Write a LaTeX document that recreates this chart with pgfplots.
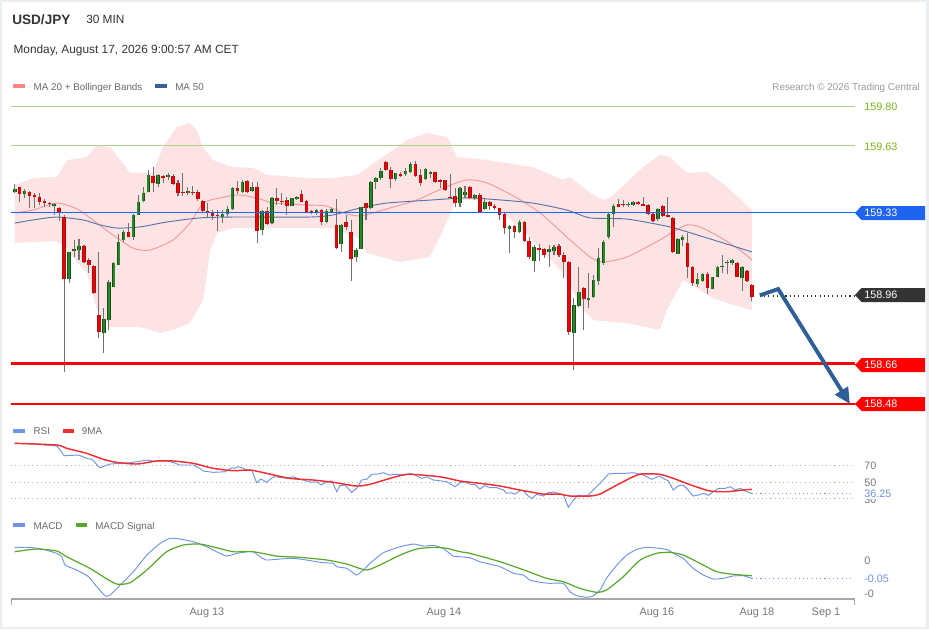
\documentclass[border=0pt]{standalone}
\usepackage{fontspec}
\setmainfont{Liberation Sans}
\usepackage{pgfplots}
\pgfplotsset{compat=1.18}
\usepackage{pgfplotstable}
\usetikzlibrary{arrows.meta}
\newcommand\fs[1]{\fontsize{#1}{#1}\selectfont}
\definecolor{bandpink}{HTML}{FDE3E3}
\definecolor{ma20}{HTML}{F49A9A}
\definecolor{ma50}{HTML}{5573AC}
\definecolor{cgreen}{HTML}{258A25}
\definecolor{cgreenD}{HTML}{174D17}
\definecolor{cred}{HTML}{F00000}
\definecolor{credD}{HTML}{A51010}
\definecolor{wick}{HTML}{707070}
\definecolor{resblue}{HTML}{1F63F0}
\definecolor{resgreen}{HTML}{A9D68C}
\definecolor{lbgreen}{HTML}{78B41C}
\definecolor{supred}{HTML}{FF0000}
\definecolor{arrowblue}{HTML}{2F5F98}
\definecolor{rsiblue}{HTML}{6F93E6}
\definecolor{rsired}{HTML}{F03030}
\definecolor{macdgreen}{HTML}{55A828}
\definecolor{titlec}{HTML}{333333}
\definecolor{leggray}{HTML}{6A6A6A}
\definecolor{resgray}{HTML}{9A9A9A}
\definecolor{txtgray}{HTML}{777777}
\definecolor{dotgray}{HTML}{B5B5B5}
\definecolor{axisgray}{HTML}{A8A8A8}
\definecolor{framec}{HTML}{E8EEF1}
\definecolor{darkbox}{HTML}{333333}
\definecolor{legpink}{HTML}{FF8585}
\definecolor{legblue}{HTML}{3A5F9A}

\pgfplotsset{candle/.style={only marks, mark=*, mark size=0pt,
  mark options={draw=none, fill=none},
  error bars/.cd, y dir=plus, y explicit, error mark=none}}

\pgfplotstableread{
i o h l c
0 159.421 159.457 159.417 159.434
1 159.443 159.446 159.376 159.412
2 159.412 159.434 159.397 159.428
3 159.424 159.427 159.350 159.406
4 159.410 159.417 159.353 159.399
5 159.401 159.417 159.364 159.379
6 159.384 159.392 159.357 159.372
7 159.375 159.379 159.357 159.369
8 159.361 159.375 159.320 159.369
9 159.350 159.357 159.293 159.330
10 159.312 159.320 158.622 159.034
11 159.034 159.157 159.016 159.154
12 159.160 159.209 159.135 159.168
13 159.164 159.212 159.120 159.182
14 159.182 159.187 159.105 159.112
15 159.120 159.128 159.064 159.098
16 159.095 159.098 158.969 158.972
17 158.876 159.157 158.772 158.801
18 158.794 158.905 158.708 158.857
19 158.853 159.031 158.809 159.024
20 159.001 159.112 159.000 159.105
21 159.098 159.236 159.098 159.201
22 159.209 159.253 159.201 159.246
23 159.243 159.283 159.221 159.221
24 159.224 159.323 159.209 159.320
25 159.320 159.409 159.320 159.379
26 159.382 159.446 159.379 159.419
27 159.421 159.520 159.421 159.498
28 159.493 159.535 159.424 159.461
29 159.458 159.501 159.446 159.498
30 159.493 159.498 159.461 159.483
31 159.488 159.508 159.476 159.496
32 159.495 159.502 159.453 159.458
33 159.464 159.476 159.404 159.417
34 159.422 159.508 159.404 159.417
35 159.419 159.446 159.409 159.427
36 159.422 159.449 159.409 159.417
37 159.424 159.431 159.384 159.390
38 159.382 159.387 159.328 159.338
39 159.338 159.372 159.312 159.328
40 159.332 159.342 159.298 159.317
41 159.320 159.342 159.249 159.316
42 159.310 159.342 159.283 159.324
43 159.324 159.360 159.312 159.345
44 159.345 159.443 159.342 159.439
45 159.441 159.472 159.413 159.428
46 159.424 159.476 159.417 159.467
47 159.472 159.476 159.417 159.421
48 159.427 159.468 159.424 159.446
49 159.446 159.468 159.194 159.250
50 159.253 159.342 159.231 159.338
51 159.338 159.357 159.276 159.280
52 159.283 159.399 159.280 159.394
53 159.394 159.439 159.364 159.382
54 159.384 159.417 159.364 159.379
55 159.387 159.401 159.320 159.361
56 159.361 159.397 159.360 159.394
57 159.391 159.404 159.387 159.399
58 159.412 159.431 159.376 159.379
59 159.382 159.387 159.328 159.330
60 159.338 159.342 159.324 159.328
61 159.328 159.345 159.320 159.342
62 159.342 159.345 159.276 159.290
63 159.290 159.345 159.286 159.339
64 159.335 159.350 159.328 159.345
65 159.276 159.390 159.169 159.172
66 159.191 159.280 159.157 159.276
67 159.290 159.320 159.253 159.265
68 159.246 159.298 159.027 159.123
69 159.132 159.172 159.112 159.164
70 159.170 159.357 159.170 159.354
71 159.372 159.375 159.298 159.350
72 159.350 159.472 159.345 159.468
73 159.468 159.488 159.434 159.483
74 159.483 159.528 159.476 159.517
75 159.557 159.560 159.516 159.520
76 159.520 159.535 159.439 159.480
77 159.480 159.508 159.471 159.505
78 159.501 159.512 159.490 159.495
79 159.502 159.530 159.495 159.517
80 159.510 159.557 159.505 159.545
81 159.545 159.560 159.490 159.495
82 159.498 159.524 159.450 159.464
83 159.479 159.528 159.476 159.523
84 159.502 159.516 159.483 159.510
85 159.510 159.512 159.464 159.465
86 159.476 159.480 159.441 159.468
87 159.474 159.476 159.427 159.430
88 159.401 159.501 159.397 159.397
89 159.406 159.441 159.357 159.372
90 159.372 159.446 159.357 159.439
91 159.409 159.449 159.394 159.424
92 159.446 159.449 159.391 159.397
93 159.394 159.412 159.387 159.409
94 159.409 159.417 159.332 159.335
95 159.347 159.397 159.342 159.379
96 159.379 159.382 159.342 159.361
97 159.361 159.368 159.342 159.350
98 159.350 159.353 159.298 159.320
99 159.323 159.328 159.234 159.261
100 159.258 159.276 159.150 159.272
101 159.272 159.276 159.216 159.246
102 159.243 159.298 159.239 159.290
103 159.290 159.293 159.201 159.204
104 159.204 159.224 159.124 159.132
105 159.116 159.187 159.068 159.179
106 159.175 159.190 159.116 159.164
107 159.168 159.172 159.128 159.142
108 159.154 159.187 159.090 159.168
109 159.160 159.187 159.142 159.179
110 159.184 159.190 159.135 159.142
111 159.142 159.157 159.041 159.110
112 159.110 159.116 158.787 158.801
113 158.797 158.951 158.631 158.920
114 158.916 159.090 158.912 158.979
115 158.994 159.001 158.809 158.945
116 158.942 159.061 158.905 158.952
117 158.954 159.053 158.950 159.031
118 159.028 159.172 159.009 159.128
119 159.108 159.209 159.098 159.201
120 159.224 159.328 159.212 159.324
121 159.324 159.369 159.265 159.360
122 159.368 159.390 159.354 159.357
123 159.368 159.387 159.354 159.363
124 159.363 159.379 159.357 159.369
125 159.363 159.384 159.360 159.378
126 159.378 159.384 159.363 159.368
127 159.368 159.401 159.360 159.361
128 159.364 159.368 159.320 159.324
129 159.324 159.328 159.290 159.295
130 159.301 159.350 159.295 159.345
131 159.361 159.366 159.312 159.316
132 159.320 159.399 159.310 159.312
133 159.305 159.310 159.153 159.154
134 159.147 159.217 159.146 159.212
135 159.209 159.231 159.182 159.224
136 159.194 159.239 159.039 159.090
137 159.090 159.093 159.005 159.019
138 159.012 159.064 158.999 159.034
139 159.028 159.061 159.024 159.058
140 159.058 159.068 158.969 158.994
141 158.992 159.046 158.990 159.043
142 159.046 159.093 159.043 159.090
143 159.089 159.142 159.061 159.093
144 159.105 159.120 159.058 159.112
145 159.105 159.123 159.098 159.120
146 159.108 159.112 159.043 159.046
147 159.039 159.093 158.984 159.090
148 159.071 159.076 159.024 159.028
149 159.009 159.012 158.939 158.954
}\candles

\begin{document}
\begin{tikzpicture}[x=0.75pt,y=-0.75pt]
\path[use as bounding box] (0,0) rectangle (929,629);
\fill[white] (0,0) rectangle (929,629);
\draw[framec, line width=1.5pt] (1,1) rectangle (928,628);
\fill[framec] (926,0) rectangle (929,629);

% ---------- main price panel ----------
\begin{axis}[at={(8.25pt,-311.25pt)}, anchor=south west, scale only axis,
  width=633pt, height=240pt,
  xmin=-0.75, xmax=169.83, ymin=158.4311, ymax=159.8533,
  axis line style={draw=none}, ticks=none, clip=false]
% Bollinger band
\addplot[fill=bandpink, draw=none] coordinates {
(0,159.453)(3.7,159.484)(8.5,159.489)(9.6,159.529)(10.6,159.564)(14.6,159.578)(16.6,159.631)(19.3,159.622)(23.3,159.507)(27.9,159.507)(30.0,159.622)(32.8,159.711)(35.4,159.729)(36.8,159.698)(38.0,159.622)(40.1,159.564)(44.1,159.533)(48.2,159.529)(51.0,159.498)(59.7,159.484)(64.3,159.484)(69.2,159.498)(79.3,159.653)(83.3,159.684)(87.4,159.667)(89.4,159.578)(95.5,159.564)(104.7,159.533)(110.8,159.476)(112.2,159.489)(116.9,159.409)(118.9,159.387)(120.3,159.396)(127.0,159.533)(130.4,159.587)(132.4,159.578)(135.9,159.507)(139.9,159.511)(144.0,159.445)(149,159.342)
(149,158.898)(145.2,158.920)(141.1,158.951)(138.5,158.987)(135.1,159.031)(131.8,158.898)(130.4,158.809)(123.7,158.840)(116.9,158.853)(114.9,158.898)(110.8,159.062)(104.7,159.209)(98.1,159.342)(93.0,159.387)(89.4,159.387)(88.6,159.356)(86.6,159.253)(83.9,159.133)(77.9,159.111)(71.2,159.151)(69.2,159.222)(64.3,159.262)(59.7,159.262)(44.1,159.262)(40.9,159.240)(39.5,159.164)(38.1,158.942)(35.4,158.840)(32.0,158.809)(29.4,158.796)(25.3,158.822)(19.3,158.822)(16.6,158.898)(14.6,159.062)(12.6,159.111)(9.6,159.187)(8.5,159.204)(3.7,159.200)(0,159.196)
} --cycle;
% MA 20
\addplot[ma20, line width=0.7pt, smooth, tension=0.4] coordinates {
(0,159.329)(3.7,159.342)(8.5,159.373)(12.6,159.347)(15.8,159.298)(19.3,159.240)(23.9,159.173)(27.3,159.164)(32.0,159.209)(35.4,159.284)(38.1,159.373)(41.5,159.396)(45.5,159.409)(49.6,159.391)(52.2,159.373)(59.7,159.364)(63.0,159.360)(67.0,159.325)(70.0,159.316)(74.4,159.342)(81.3,159.387)(86.6,159.440)(91.4,159.476)(95.5,159.462)(101.5,159.396)(106.2,159.329)(111.6,159.222)(116.3,159.133)(118.9,159.111)(123.7,159.133)(130.4,159.209)(133.0,159.244)(135.9,159.276)(138.5,159.267)(142.5,159.222)(146.6,159.164)(149,159.120)};
% MA 50
\addplot[ma50, line width=0.7pt, smooth, tension=0.4] coordinates {
(0,159.284)(3.7,159.298)(8.5,159.311)(13.8,159.298)(17.2,159.276)(20.7,159.262)(25.3,159.267)(30.8,159.289)(37.4,159.307)(44.1,159.311)(59.7,159.311)(64.3,159.320)(69.8,159.351)(75.2,159.373)(84.5,159.387)(91.4,159.396)(98.1,159.387)(104.7,159.373)(111.6,159.342)(116.3,159.307)(123.7,159.302)(132.4,159.267)(139.9,159.218)(149,159.156)};
% wicks
\addplot[candle, error bar style={draw=wick, line width=0.8pt}]
  table[x=i, y=l, y error expr={\thisrow{h}-\thisrow{l}}] {\candles};
% green bodies
\addplot[candle, error bar style={draw=cgreenD, line width=2.7pt}]
  table[x=i, y expr={\thisrow{c}>=\thisrow{o} ? min(\thisrow{o},\thisrow{c}) : nan},
        y error expr={max(abs(\thisrow{c}-\thisrow{o}),0.005)}] {\candles};
\addplot[candle, error bar style={draw=cgreen, line width=1.5pt}]
  table[x=i, y expr={\thisrow{c}>=\thisrow{o} ? min(\thisrow{o},\thisrow{c}) : nan},
        y error expr={max(abs(\thisrow{c}-\thisrow{o}),0.005)}] {\candles};
% red bodies
\addplot[candle, error bar style={draw=credD, line width=2.7pt}]
  table[x=i, y expr={\thisrow{c}<\thisrow{o} ? min(\thisrow{o},\thisrow{c}) : nan},
        y error expr={max(abs(\thisrow{c}-\thisrow{o}),0.005)}] {\candles};
\addplot[candle, error bar style={draw=cred, line width=1.5pt}]
  table[x=i, y expr={\thisrow{c}<\thisrow{o} ? min(\thisrow{o},\thisrow{c}) : nan},
        y error expr={max(abs(\thisrow{c}-\thisrow{o}),0.005)}] {\candles};
% horizontal levels
\addplot[resgreen, line width=0.75pt] coordinates {(-0.75,159.80)(169.83,159.80)};
\addplot[resgreen, line width=0.75pt] coordinates {(-0.75,159.63)(169.83,159.63)};
\addplot[resblue, line width=1pt] coordinates {(-0.75,159.33)(169.83,159.33)};
\addplot[supred, line width=1.7pt] coordinates {(-0.75,158.66)(169.83,158.66)};
\addplot[supred, line width=1.7pt] coordinates {(-0.75,158.48)(169.83,158.48)};
\addplot[darkbox, line width=0.8pt, dash pattern=on 0.8pt off 2.4pt] coordinates {(150.6,158.96)(169.83,158.96)};
% forecast arrow
\addplot[arrowblue, line width=2.9pt, miter limit=10, -{Triangle[length=12pt,width=11pt]}] coordinates {(150.6,158.963)(154.3,158.991)(168.8,158.480)};
\end{axis}

% ---------- RSI panel ----------
\begin{axis}[at={(8.25pt,-383.4pt)}, anchor=south west, scale only axis,
  width=633pt, height=55.7pt,
  xmin=-0.75, xmax=169.83, ymin=15, ymax=105,
  axis line style={draw=none}, ticks=none, clip=false]
\addplot[dotgray, line width=0.8pt, dash pattern=on 0.8pt off 2.4pt] coordinates {(-0.75,70)(169.2,70)};
\addplot[dotgray, line width=0.8pt, dash pattern=on 0.8pt off 2.4pt] coordinates {(-0.75,50)(169.2,50)};
\addplot[dotgray, line width=0.8pt, dash pattern=on 0.8pt off 2.4pt] coordinates {(-0.75,30)(169.2,30)};
\addplot[rsiblue, line width=0.7pt] coordinates {
(0,97.3)(3.8,96.4)(8.5,94.0)(9.2,89.2)(10.0,82.2)(12.9,83.1)(14.5,79.1)(15.6,77.9)(17.2,67.7)(19.3,72.2)(21.3,73.0)(23.3,73.8)(24.7,75.0)(26.7,77.0)(28.0,75.8)(30.7,76.2)(32.1,73.8)(33.4,71.0)(36.1,71.0)(37.4,67.0)(38.1,63.7)(40.1,62.1)(42.5,62.8)(43.9,67.7)(44.5,67.0)(45.2,68.9)(45.9,67.7)(46.9,64.9)(47.9,64.9)(48.9,49.5)(49.6,53.6)(50.2,52.8)(50.9,50.0)(52.3,56.8)(53.6,56.1)(55.0,54.8)(56.3,56.8)(57.7,53.6)(59.0,51.6)(60.0,50.0)(61.0,50.7)(62.0,46.7)(63.1,50.7)(64.1,51.6)(65.1,38.6)(65.7,45.9)(66.8,46.7)(68.1,37.9)(69.1,42.7)(70.1,52.8)(71.1,53.6)(72.2,59.7)(73.5,60.1)(74.5,61.6)(75.8,58.8)(77.2,59.7)(78.9,58.8)(79.9,60.9)(80.9,58.8)(82.3,54.8)(83.3,56.8)(84.6,52.8)(86.0,51.9)(87.3,50.7)(89.0,44.7)(90.0,49.5)(91.0,50.7)(92.0,47.6)(93.0,47.6)(94.0,41.9)(95.0,45.9)(96.1,43.5)(97.4,43.5)(98.8,40.7)(99.4,36.7)(100.4,37.4)(101.1,35.8)(102.1,39.8)(102.8,39.8)(103.8,33.4)(104.5,30.1)(105.5,35.5)(106.8,33.4)(107.8,37.4)(108.9,38.2)(109.9,36.7)(110.9,34.6)(111.9,19.7)(112.9,28.5)(113.9,34.6)(114.9,33.4)(115.9,34.2)(116.9,40.7)(118.3,48.8)(120.0,60.1)(121.7,60.9)(123.3,60.9)(125.0,61.6)(126.7,59.7)(127.7,56.8)(128.7,53.6)(129.7,56.1)(130.4,57.6)(131.4,53.6)(132.1,51.9)(133.1,40.7)(134.1,45.9)(135.1,46.7)(136.1,40.7)(137.1,33.4)(138.2,34.6)(139.2,36.7)(140.2,34.2)(141.2,38.6)(142.2,42.7)(143.6,42.7)(144.6,44.7)(145.6,40.7)(146.6,42.7)(147.6,39.5)(149.0,36.25)};
\addplot[rsired, line width=1.1pt, smooth, tension=0.4] coordinates {
(0,97.3)(8.5,95.2)(10.5,91.2)(14.5,85.2)(17.9,77.9)(20.6,74.2)(24.7,72.2)(28.7,75.8)(32.1,75.8)(36.1,73.0)(40.1,67.0)(44.2,64.1)(47.6,64.9)(50.9,60.9)(55.6,54.8)(60.3,52.8)(64.4,50.0)(69.1,45.5)(71.8,47.6)(75.2,53.6)(79.2,59.7)(83.9,58.0)(86.6,56.1)(90.0,51.6)(94.0,48.8)(98.1,45.5)(102.1,40.7)(106.8,35.8)(110.2,35.8)(112.2,33.4)(116.3,33.4)(118.3,35.8)(121.7,46.7)(125.0,56.8)(126.7,60.1)(130.4,59.7)(133.1,54.8)(137.1,45.9)(140.5,39.5)(143.9,38.6)(147.2,40.7)(149.0,41.5)};
\addplot[rsiblue, line width=0.8pt, dash pattern=on 0.8pt off 2.4pt] coordinates {(149.0,36.25)(169.2,36.25)};
\end{axis}

% ---------- MACD panel ----------
\begin{axis}[at={(8.25pt,-449.475pt)}, anchor=south west, scale only axis,
  width=633pt, height=48.2pt,
  xmin=-0.75, xmax=169.83, ymin=-0.1159, ymax=0.0772,
  axis line style={draw=none}, ytick=\empty,
  xtick={38.86,86.76,129.8,150.0,163.97},
  xticklabels={Aug 13,Aug 14,Aug 16,Aug 18,Sep 1},
  major tick length=0pt, tick style={draw=none},
  xticklabel style={font=\fs{8.2}, text=txtgray, anchor=center, yshift=-10.3pt},
  clip=false]
\addplot[rsiblue, line width=0.7pt, smooth, tension=0.3] coordinates {
(0,0.0402)(3.1,0.0402)(5.8,0.0342)(8.5,0.0222)(9.5,0.0120)(10.2,-0.0129)(12.5,-0.0279)(14.9,-0.0480)(16.6,-0.0781)(18.3,-0.1060)(19.3,-0.1030)(21.3,-0.0730)(24.0,-0.0330)(26.7,0.0171)(29.4,0.0522)(31.4,0.0673)(33.4,0.0652)(36.1,0.0571)(38.8,0.0420)(40.8,0.0270)(42.8,0.0141)(44.9,0.0222)(46.9,0.0270)(48.2,0.0270)(49.6,0.0120)(50.9,0.0021)(53.6,0.0051)(56.3,0.0072)(59.0,0.0021)(61.0,-0.0030)(62.4,-0.0060)(64.4,-0.0078)(65.1,-0.0180)(67.1,-0.0228)(68.1,-0.0330)(69.1,-0.0429)(70.5,-0.0279)(71.8,-0.0078)(74.5,0.0240)(77.9,0.0420)(80.6,0.0502)(82.6,0.0441)(84.6,0.0462)(86.6,0.0372)(88.6,0.0141)(90.0,0.0120)(92.0,0.0090)(94.0,-0.0030)(98.1,-0.0180)(100.8,-0.0378)(102.8,-0.0429)(104.1,-0.0580)(106.2,-0.0649)(108.2,-0.0679)(110.9,-0.0679)(112.2,-0.0931)(113.6,-0.1051)(115.6,-0.1099)(116.9,-0.1060)(118.3,-0.0880)(119.6,-0.0529)(121.7,-0.0129)(123.7,0.0171)(125.7,0.0342)(127.7,0.0402)(130.4,0.0372)(132.1,0.0321)(133.1,0.0222)(135.1,0.0072)(137.1,-0.0228)(139.2,-0.0429)(141.2,-0.0550)(143.2,-0.0529)(145.2,-0.0459)(147.2,-0.0450)(149.0,-0.0530)};
\addplot[macdgreen, line width=0.9pt, smooth, tension=0.4] coordinates {
(0,0.0270)(4.4,0.0351)(8.5,0.0291)(10.5,0.0120)(15.2,-0.0228)(17.9,-0.0480)(20.6,-0.0700)(23.3,-0.0661)(26.7,-0.0279)(30.7,0.0270)(34.1,0.0471)(37.4,0.0502)(40.8,0.0390)(44.2,0.0270)(48.2,0.0270)(52.9,0.0141)(57.7,0.0102)(63.1,0.0021)(67.1,-0.0099)(71.1,-0.0279)(74.5,-0.0078)(77.9,0.0171)(81.2,0.0351)(84.6,0.0402)(87.3,0.0372)(90.0,0.0270)(92.0,0.0222)(98.1,-0.0030)(103.5,-0.0309)(107.5,-0.0529)(110.9,-0.0631)(114.2,-0.0829)(117.6,-0.0949)(119.6,-0.0880)(123.0,-0.0480)(126.4,0.0021)(129.7,0.0222)(132.4,0.0252)(135.1,0.0171)(138.5,-0.0078)(141.9,-0.0330)(145.2,-0.0408)(149.0,-0.0450)};
\addplot[rsiblue, line width=0.8pt, dash pattern=on 0.8pt off 2.4pt] coordinates {(149.0,-0.0530)(169.2,-0.0530)};
\end{axis}

% bottom axis line
\draw[axisgray, line width=1.4pt] (11,599.3) -- (855,599.3);
\draw[axisgray, line width=1pt] (11.7,599.3) -- (11.7,604.5);
\draw[axisgray, line width=1pt] (854.3,599.3) -- (854.3,604.5);

% header
\node[anchor=base west, inner sep=0, font=\bfseries\fs{10.2}, text=titlec] at (12,24) {USD/JPY};
\node[anchor=base west, inner sep=0, font=\fs{8.9}, text=titlec] at (86,23.3) {30 MIN};
\node[anchor=base west, inner sep=0, font=\fs{8.9}, text=titlec] at (13.3,53.3) {Monday, August 17, 2026 9:00:57 AM CET};
\fill[legpink] (13.3,84.3) rectangle (25,88.3);
\node[anchor=base west, inner sep=0, font=\fs{7.4}, text=leggray] at (33.3,90) {MA 20 + Bollinger Bands};
\fill[legblue] (155.3,84.3) rectangle (166.7,88.3);
\node[anchor=base west, inner sep=0, font=\fs{7.4}, text=leggray] at (175,90) {MA 50};
\node[anchor=base east, inner sep=0, font=\fs{7.4}, text=resgray] at (920,90) {Research © 2026 Trading Central};

% RSI / MACD legends
\fill[rsiblue] (13.3,429.3) rectangle (25,432.7);
\node[anchor=base west, inner sep=0, font=\fs{7.4}, text=leggray] at (33.3,434) {RSI};
\fill[rsired] (62.7,429.3) rectangle (74,432.7);
\node[anchor=base west, inner sep=0, font=\fs{7.4}, text=leggray] at (81.7,434) {9MA};
\fill[rsiblue] (13.3,523.3) rectangle (25,526.7);
\node[anchor=base west, inner sep=0, font=\fs{7.4}, text=leggray] at (33.3,529) {MACD};
\fill[macdgreen] (76,523.3) rectangle (87.3,526.7);
\node[anchor=base west, inner sep=0, font=\fs{7.4}, text=leggray] at (95,529) {MACD Signal};

% right price labels
\node[anchor=west, inner sep=0, font=\fs{8.1}, text=lbgreen] at (864,107) {159.80};
\node[anchor=west, inner sep=0, font=\fs{8.1}, text=lbgreen] at (864,147) {159.63};
\fill[resblue] (855,213)--(861.5,206)--(925,206)--(925,220)--(861.5,220)--cycle;
\node[anchor=west, inner sep=0, font=\fs{8.1}, text=white] at (864,213) {159.33};
\fill[darkbox] (855,295)--(861.5,288)--(925,288)--(925,302)--(861.5,302)--cycle;
\node[anchor=west, inner sep=0, font=\fs{8.1}, text=white] at (864,295) {158.96};
\fill[supred] (855,365)--(861.5,358)--(925,358)--(925,372)--(861.5,372)--cycle;
\node[anchor=west, inner sep=0, font=\fs{8.1}, text=white] at (864,365) {158.66};
\fill[supred] (855,404)--(861.5,397)--(925,397)--(925,411)--(861.5,411)--cycle;
\node[anchor=west, inner sep=0, font=\fs{8.1}, text=white] at (864,404) {158.48};

% RSI labels
\node[anchor=west, inner sep=0, font=\fs{8.1}, text=txtgray] at (864,466) {70};
\node[anchor=west, inner sep=0, font=\fs{8.1}, text=txtgray] at (864,482.3) {50};
\node[anchor=west, inner sep=0, font=\fs{8.1}, text=txtgray] at (864,500) {30};
\node[anchor=west, inner sep=0.6pt, fill=white, font=\fs{8.1}, text=rsiblue] at (863.4,494) {36.25};

% MACD labels
\node[anchor=west, inner sep=0, font=\fs{8.1}, text=txtgray] at (864,560.7) {0};
\node[anchor=west, inner sep=0, font=\fs{8.1}, text=rsiblue] at (864,578.3) {-0.05};
\node[anchor=west, inner sep=0, font=\fs{8.1}, text=txtgray] at (864,594) {-0};
\end{tikzpicture}
\end{document}
